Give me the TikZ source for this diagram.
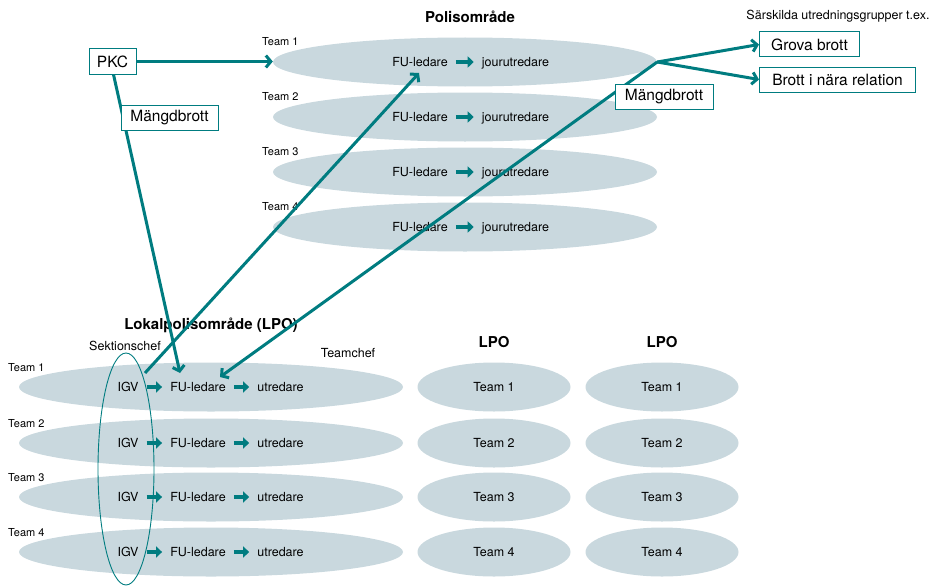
\documentclass[tikz,border=0pt]{standalone}
\usepackage{fontspec}
\setmainfont{TeX Gyre Heros}
\usetikzlibrary{arrows.meta,calc,shapes.geometric}
\definecolor{tealc}{RGB}{0,124,128}
\definecolor{ellfill}{RGB}{201,216,222}
\begin{document}
\begin{tikzpicture}[x=1pt,y=-1pt,
  bigell/.style={ellipse, fill=ellfill, draw=none, inner sep=0pt, minimum width=384pt, minimum height=49pt},
  smallell/.style={ellipse, fill=ellfill, draw=none, inner sep=0pt, minimum width=153pt, minimum height=49pt, font=\fontsize{12.5}{15}\selectfont},
  txt/.style={inner sep=0pt, font=\fontsize{12.5}{15}\selectfont, text height=9pt, text depth=0pt},
  teamlbl/.style={inner sep=0pt, anchor=west, font=\fontsize{11}{13}\selectfont},
  ttl/.style={inner sep=0pt, font=\fontsize{15}{18}\selectfont\bfseries},
  box/.style={draw=tealc, line width=1pt, fill=white, inner sep=0pt, minimum height=25pt, font=\fontsize{15.5}{18}\selectfont},
  conn/.style={draw=tealc, line width=3pt, -{Straight Barb[length=5pt,width=12pt]}},
  inarr/.style={draw=tealc, line width=3.5pt, -{Triangle[length=6pt,width=11pt]}, shorten <=8pt, shorten >=8pt}
]
\useasboundingbox (0,0) rectangle (936,586);

% ---- Polisområde
\node[ttl] (ptitle) at (470,17) {Polisområde};
\foreach \i/\y in {1/62,2/117,3/172,4/227}{
  \node[bigell] (pe\i) at (465,\y) {};
  \node[teamlbl] (pt\i) at (262,\y-20) {Team \i};
  \node[txt] (pfu\i) at (420,\y) {FU-ledare};
  \node[txt] (pjo\i) at (515.5,\y) {jourutredare};
  \draw[inarr] (pfu\i.east) -- (pjo\i.west);
}

% ---- Lokalpolisområde
\node[ttl] (ltitle) at (211,325) {Lokalpolisområde (LPO)};
\node[txt] (sekt) at (125,346) {Sektionschef};
\node[txt] (tchef) at (348,353) {Teamchef};
\node[ttl] (lpo2) at (494,342) {LPO};
\node[ttl] (lpo3) at (662,342) {LPO};
\foreach \i/\y in {1/387,2/443,3/497,4/552}{
  \node[bigell] (le\i) at (211,\y) {};
  \node[teamlbl] (lt\i) at (8,\y-19) {Team \i};
  \node[txt] (igv\i) at (128,\y) {IGV};
  \node[txt] (lfu\i) at (198,\y) {FU-ledare};
  \node[txt] (lut\i) at (280.5,\y) {utredare};
  \draw[inarr] (igv\i.east) -- (lfu\i.west);
  \draw[inarr] (lfu\i.east) -- (lut\i.west);
  \node[smallell] (a\i) at (494,\y) {Team \i};
  \node[smallell] (b\i) at (662,\y) {Team \i};
}
\node[ellipse, draw=tealc, line width=0.9pt, inner sep=0pt, minimum width=56pt, minimum height=232pt] (sek) at (126,469) {};

% ---- Right side
\node[inner sep=0pt, font=\fontsize{12.5}{14}\selectfont] (sars) at (838,16) {Särskilda utredningsgrupper t.ex.};
\node[box, minimum width=100pt] (grova) at (809.5,44.5) {Grova brott};
\node[box, minimum width=156pt] (brott) at (837.5,79.5) {Brott i nära relation};
\coordinate (hub) at (pe1.east);

% ---- PKC
\node[box, minimum width=47pt] (pkc) at (112.5,61.5) {PKC};

% ---- connectors
\draw[conn] (pkc.east) -- (pkc.east -| pe1.west);
\draw[conn] ($(pkc.south)+(1,0)$) -- ($(lfu1)+(-18,-14)$);
\draw[conn] ($(igv1)+(17,-14)$) -- ($(pfu1)+(-1,11)$);
\draw[conn] (hub) -- ($(lfu1)+(22,-10)$);
\draw[conn] (hub) -- (grova.west);
\draw[conn] (hub) -- (brott.west);

% ---- labels on connectors
\node[box, minimum width=97pt] (mb1) at (169.5,117.5) {Mängdbrott};
\node[box, minimum width=98pt] (mb2) at (664,96.5) {Mängdbrott};
\end{tikzpicture}
\end{document}
